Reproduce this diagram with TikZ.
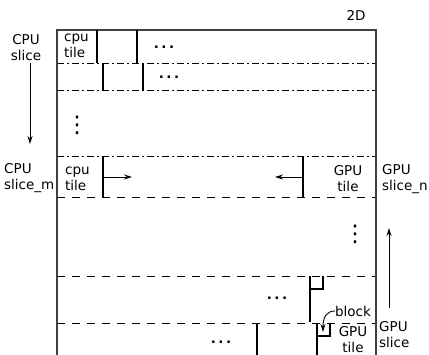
\documentclass[tikz,border=0pt]{standalone}
\usepackage{fontspec}
\setmainfont{DejaVu Sans}
\usetikzlibrary{arrows.meta}
\newcommand\hdots{\textbf{.\hspace{2.5pt}.\hspace{2.5pt}.}}
\tikzset{
  lbl/.style={inner sep=0pt, font=\fontsize{13.5}{16}\selectfont},
  lbll/.style={lbl, align=left},
  lblc/.style={lbl, align=center},
  vd/.style={inner sep=0pt, font=\fontsize{23}{23}\selectfont},
  frame/.style={line width=1.4pt, draw=black!75},
  dd/.style={line width=0.9pt, dash pattern=on 7pt off 3pt on 2pt off 3pt},
  ds/.style={line width=0.9pt, dash pattern=on 8pt off 7pt},
  sep/.style={line width=1.1pt},
  arr/.style={line width=0.9pt, -{Stealth[length=8pt,width=5pt]}},
}
\begin{document}
\begin{tikzpicture}[x=1pt,y=-1pt]
\useasboundingbox (0,0) rectangle (429,355);
% separators
\draw[dd] (57,63) -- (376,63);
\draw[dd] (57,90) -- (376,90);
\draw[dd] (57,156) -- (376,156);
\draw[ds] (57,197) -- (376,197);
\draw[ds] (57,276) -- (376,276);
\draw[ds] (57,323) -- (376,323);
% frame
\draw[frame] (57,355) -- (57,30) -- (376,30) -- (376,355);
% tile borders
\draw[sep] (97,30) -- (97,63);
\draw[sep] (137,30) -- (137,63);
\draw[sep] (103,63) -- (103,90);
\draw[sep] (143,63) -- (143,90);
\draw[sep] (103,156) -- (103,197);
\draw[sep] (303,156) -- (303,197);
\draw[sep] (310,276) -- (310,322);
\draw[sep] (310,289) -- (323,289) -- (323,276);
\draw[sep] (317,323) -- (317,355);
\draw[sep] (317,336) -- (330,336) -- (330,323);
\draw[sep] (257,323) -- (257,355);
% texts
\node[lbl] (twod) at (356,15) {2D};
\node[lblc] (cpuslice) at (26,48) {CPU\\slice};
\node[lbll, anchor=west] (cputile1) at (64,46) {cpu\\tile};
\node[lbl] (d1) at (164,47) {\hdots};
\node[lbl] (d2) at (169,77) {\hdots};
\node[vd] (v1) at (77,125) {⋮};
\node[lbll, anchor=west] (cpuslicem) at (4,178) {CPU\\slice\_m};
\node[lbll, anchor=west] (cputile2) at (65,179) {cpu\\tile};
\node[lblc] (gputile1) at (348,179) {GPU\\tile};
\node[lbll, anchor=west] (gpuslicen) at (382,179) {GPU\\slice\_n};
\node[vd] (v2) at (355,234) {⋮};
\node[lbl] (d3) at (277,298) {\hdots};
\node[lbl] (d4) at (221,342) {\hdots};
\node[lbl] (block) at (353,311) {block};
\node[lblc] (gputile2) at (353,340) {GPU\\tile};
\node[lbll, anchor=west] (gpuslice) at (379,335) {GPU\\slice};
% arrow anchors
\coordinate (a1s) at (103,177); \coordinate (a1e) at (132,177);
\coordinate (a2s) at (303,177); \coordinate (a2e) at (275,177);
\coordinate (cs) at (30,63); \coordinate (ce) at (30,144);
\coordinate (gs) at (389,308); \coordinate (ge) at (389,228);
\coordinate (be) at (323,332);
% arrows
\draw[arr] (a1s) -- (a1e);
\draw[arr] (a2s) -- (a2e);
\draw[arr] (cs) -- (ce);
\draw[arr] (gs) -- (ge);
\draw[arr] (block.west) .. controls (326,311) and (323,318) .. (be);
\end{tikzpicture}
\end{document}
